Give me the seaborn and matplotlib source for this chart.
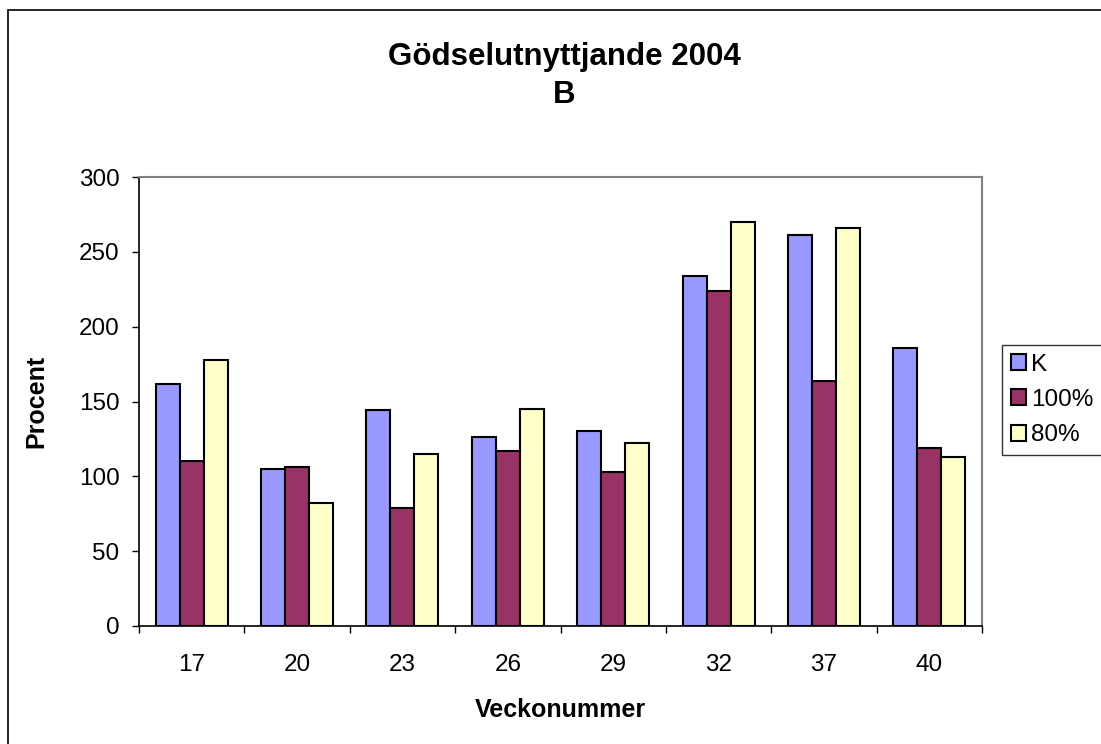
import matplotlib
matplotlib.use("Agg")
import matplotlib.pyplot as plt
import seaborn as sns
import pandas as pd
from matplotlib.patches import Rectangle
from matplotlib.ticker import FixedLocator

# data
weeks = ["17", "20", "23", "26", "29", "32", "37", "40"]
series_names = ["K", "100%", "80%"]
k_vals = [162, 105, 144, 126, 130, 234, 261, 186]
full_vals = [110, 106, 79, 117, 103, 224, 164, 119]
eighty_vals = [178, 82, 115, 145, 122, 270, 266, 113]

df = pd.DataFrame({
    "Vecka": weeks * 3,
    "Serie": [series_names[0]] * 8 + [series_names[1]] * 8 + [series_names[2]] * 8,
    "Procent": k_vals + full_vals + eighty_vals,
})

sns.set_style("white")
plt.rcParams["font.family"] = ["Liberation Sans", "DejaVu Sans"]
plt.rcParams["text.color"] = "black"
plt.rcParams["axes.labelcolor"] = "black"
plt.rcParams["xtick.color"] = "black"
plt.rcParams["ytick.color"] = "black"

fig = plt.figure(figsize=(11.01, 7.44), dpi=100)
ax = fig.add_axes([139 / 1101, 1 - 626 / 744, (982 - 139) / 1101, (626 - 177) / 744])

palette = {"K": "#9999FF", "100%": "#993366", "80%": "#FFFFCC"}
sns.barplot(data=df, x="Vecka", y="Procent", hue="Serie", palette=palette,
            width=0.684, gap=0, edgecolor="black", linewidth=1.5,
            saturation=1, errorbar=None, ax=ax)

ax.set_xlim(-0.5, 7.5)
ax.set_ylim(0, 300)
ax.set_yticks([0, 50, 100, 150, 200, 250, 300])

# ticks between categories, labels in the middle
ax.xaxis.set_minor_locator(FixedLocator([i - 0.5 for i in range(9)]))
ax.tick_params(axis="x", which="major", length=0, pad=20, labelsize=17.5, labelcolor="black")
ax.tick_params(axis="x", which="minor", direction="out", length=5, width=1, color="black", bottom=True)
ax.tick_params(axis="y", direction="out", length=5, width=1, color="black", left=True, pad=9,
               labelsize=17.5, labelcolor="black")

for side in ["left", "bottom"]:
    ax.spines[side].set_color("black")
    ax.spines[side].set_linewidth(1.2)
for side in ["top", "right"]:
    ax.spines[side].set_color("#808080")
    ax.spines[side].set_linewidth(1.5)

ax.set_xlabel("Veckonummer", fontsize=18, fontweight="bold", labelpad=16, color="black")
ax.set_ylabel("Procent", fontsize=18, fontweight="bold", labelpad=22, color="black")

fig.text(564 / 1101, 1 - 76 / 744, "Gödselutnyttjande 2004\nB", ha="center", va="center",
         fontsize=22.5, fontweight="bold", linespacing=1.32, color="black")

leg = ax.legend(loc="upper left", bbox_to_anchor=(1002 / 1101, 1 - 345 / 744),
                bbox_transform=fig.transFigure, fontsize=17.5, frameon=True,
                fancybox=False, shadow=False, borderpad=0.35, handlelength=0.65,
                handleheight=0.65, handletextpad=0.2, labelspacing=0.55, borderaxespad=0)
leg.get_frame().set_edgecolor("black")
leg.get_frame().set_linewidth(1)
for t in leg.get_texts():
    t.set_color("black")
for h in leg.legend_handles:
    h.set_edgecolor("black")
    h.set_linewidth(1.5)

# outer chart frame (only top and left edges fall inside the image)
fig.patches.append(Rectangle((8 / 1101, -0.1), 1.2, 1.1 - 10 / 744, transform=fig.transFigure,
                             fill=False, edgecolor="black", linewidth=1.2))

plt.savefig("out.png", dpi=100)
